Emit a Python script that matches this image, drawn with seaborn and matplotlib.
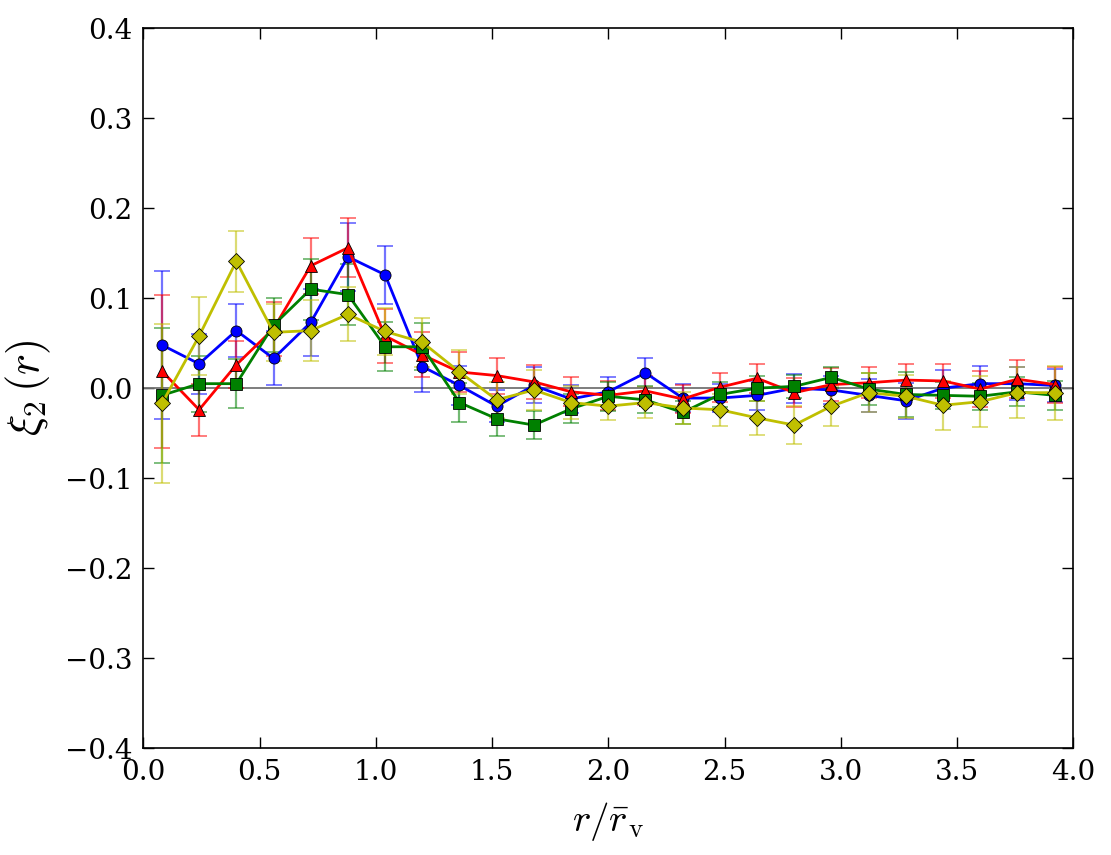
import numpy as np
import pandas as pd
import seaborn as sns
import matplotlib
matplotlib.use("Agg")
import matplotlib.pyplot as plt

# radios (centros de bin)
r = [0.08, 0.24, 0.40, 0.56, 0.72, 0.88, 1.04, 1.20, 1.36, 1.52, 1.68, 1.84, 2.00,
     2.16, 2.32, 2.48, 2.64, 2.80, 2.96, 3.12, 3.28, 3.44, 3.60, 3.76, 3.92]

xi_blue = [0.048, 0.027, 0.064, 0.033, 0.073, 0.146, 0.126, 0.024, 0.003, -0.020, 0.003, -0.012,
           -0.004, 0.017, -0.011, -0.011, -0.008, 0.000, -0.002, -0.008, -0.014, 0.000, 0.005, 0.005, 0.003]
err_blue = [0.082, 0.033, 0.029, 0.030, 0.037, 0.038, 0.032, 0.028, 0.022, 0.018, 0.020, 0.016,
            0.016, 0.016, 0.016, 0.016, 0.016, 0.016, 0.016, 0.018, 0.020, 0.020, 0.020, 0.018, 0.018]

xi_red = [0.019, -0.024, 0.026, 0.066, 0.136, 0.156, 0.058, 0.037, 0.018, 0.014, 0.007, -0.004,
          -0.008, -0.003, -0.012, 0.001, 0.011, -0.005, 0.004, 0.006, 0.009, 0.008, -0.001, 0.010, 0.004]
err_red = [0.085, 0.029, 0.026, 0.030, 0.031, 0.033, 0.030, 0.025, 0.022, 0.020, 0.019, 0.016,
           0.016, 0.016, 0.016, 0.016, 0.016, 0.016, 0.018, 0.017, 0.018, 0.019, 0.020, 0.021, 0.020]

xi_green = [-0.008, 0.005, 0.005, 0.070, 0.110, 0.104, 0.046, 0.046, -0.016, -0.034, -0.041, -0.023,
            -0.009, -0.013, -0.027, -0.007, 0.000, 0.002, 0.012, -0.001, -0.007, -0.008, -0.009, -0.004, -0.008]
err_green = [0.075, 0.031, 0.027, 0.030, 0.034, 0.034, 0.027, 0.026, 0.022, 0.019, 0.016, 0.016,
             0.016, 0.015, 0.013, 0.014, 0.014, 0.013, 0.012, 0.018, 0.025, 0.015, 0.015, 0.016, 0.016]

xi_yellow = [-0.017, 0.058, 0.141, 0.062, 0.064, 0.082, 0.063, 0.051, 0.018, -0.013, -0.002, -0.016,
             -0.020, -0.016, -0.022, -0.024, -0.033, -0.041, -0.020, -0.005, -0.009, -0.019, -0.015, -0.005, -0.005]
err_yellow = [0.088, 0.043, 0.034, 0.032, 0.034, 0.030, 0.026, 0.027, 0.024, 0.020, 0.022, 0.018,
              0.015, 0.017, 0.018, 0.018, 0.019, 0.021, 0.022, 0.022, 0.024, 0.027, 0.028, 0.028, 0.030]

muestras = ["azul", "rojo", "verde", "amarillo"]
# colores clasicos de matplotlib (b, r, g, y) en RGB para que seaborn no los cambie
colores = {"azul": (0.0, 0.0, 1.0), "rojo": (1.0, 0.0, 0.0),
           "verde": (0.0, 0.5, 0.0), "amarillo": (0.75, 0.75, 0.0)}
marcadores = {"azul": "o", "rojo": "^", "verde": "s", "amarillo": "D"}
valores = {"azul": xi_blue, "rojo": xi_red, "verde": xi_green, "amarillo": xi_yellow}
errores = {"azul": err_blue, "rojo": err_red, "verde": err_green, "amarillo": err_yellow}

df = pd.concat([pd.DataFrame({"r": r, "xi": valores[m], "err": errores[m], "muestra": m})
                for m in muestras], ignore_index=True)

sns.set_theme(style="ticks", color_codes=False, rc={
    "xtick.direction": "in", "ytick.direction": "in",
    "xtick.top": True, "ytick.right": True,
    "xtick.major.size": 8, "ytick.major.size": 8,
    "xtick.major.width": 1.0, "ytick.major.width": 1.0,
    "xtick.major.pad": 8, "ytick.major.pad": 8,
    "axes.linewidth": 1.2, "axes.edgecolor": "black",
    "text.color": "black", "axes.labelcolor": "black",
    "xtick.color": "black", "ytick.color": "black",
})
plt.rcParams["font.family"] = ["DejaVu Serif"]
plt.rcParams["mathtext.fontset"] = "cm"

fig = plt.figure(figsize=(11.11, 8.55), dpi=100)
ax = fig.add_axes([0.129, 0.125, 0.837, 0.842])

ax.axhline(0, color="0.45", lw=1.3, zorder=1)

# barras de error (semi transparentes) y despues las lineas con seaborn
for m in muestras:
    sub = df[df["muestra"] == m]
    ax.errorbar(sub["r"], sub["xi"], yerr=sub["err"], fmt="none", ecolor=colores[m],
                elinewidth=1.6, capsize=6, capthick=1.3, alpha=0.55, zorder=2)

sns.lineplot(data=df, x="r", y="xi", hue="muestra", style="muestra",
             hue_order=muestras, style_order=muestras, palette=colores,
             markers=marcadores, dashes=False, lw=2.0, markersize=8,
             markeredgecolor="black", markeredgewidth=0.6,
             legend=False, ax=ax, zorder=3, errorbar=None, sort=False)

ax.set_xlim(0, 4)
ax.set_ylim(-0.4, 0.4)
ax.set_xticks(np.arange(0, 4.01, 0.5))
ax.set_yticks(np.arange(-0.4, 0.41, 0.1))
ax.set_xticklabels([f"{v:.1f}" for v in np.arange(0, 4.01, 0.5)])
ax.set_yticklabels([f"{v:.1f}".replace("-", "\u2212") if abs(v) > 1e-9 else "0.0"
                    for v in np.arange(-0.4, 0.41, 0.1)])
ax.tick_params(labelsize=20)

ax.set_xlabel(r"$r/\bar{r}_\mathrm{v}$", fontsize=28, labelpad=10)
ax.set_ylabel(r"$\xi_2\,(r)$", fontsize=32, labelpad=8)

fig.savefig("out.png", dpi=100)
